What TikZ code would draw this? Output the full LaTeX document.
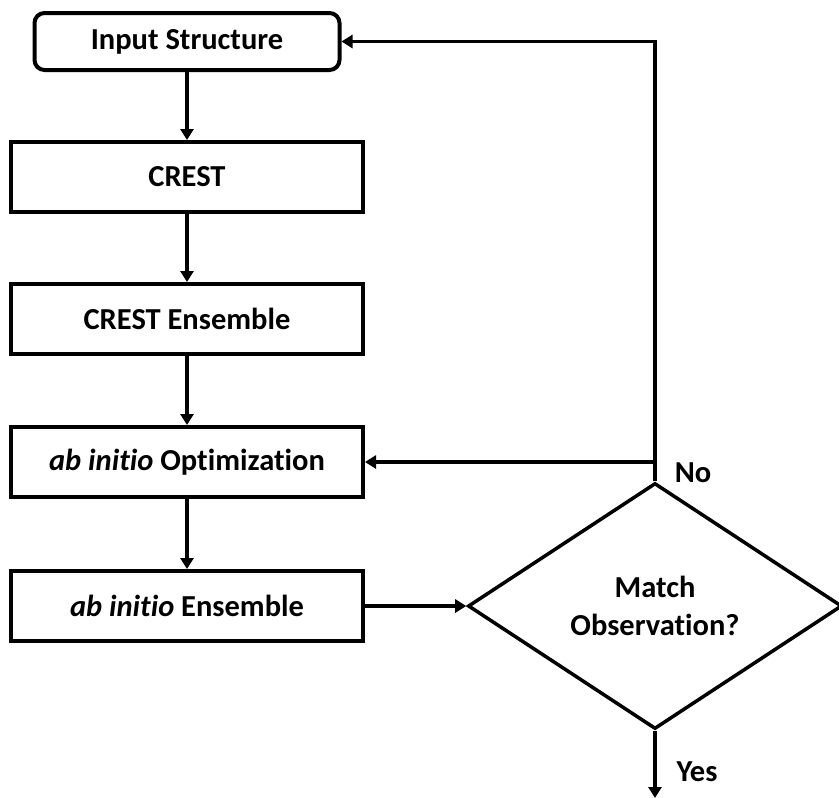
\documentclass[tikz,border=0pt]{standalone}
\usepackage{fontspec}
\setmainfont{Carlito}[Ligatures=NoCommon]
\usetikzlibrary{shapes.geometric}
\usetikzlibrary{arrows.meta}

\begin{document}
\begin{tikzpicture}[x=1pt, y=-1pt,
    font=\fontsize{30.5}{38}\selectfont\bfseries,
    box/.style={draw, line width=4pt, inner sep=0pt,
      minimum width=352pt, minimum height=70pt},
    flow/.style={line width=3.5pt, -{Triangle[length=11pt,width=13pt]}}]
    \useasboundingbox (0,0) rectangle (839,798);

    \node[box, rounded corners=10pt, minimum width=305pt, minimum height=57pt]
      (instr) at (187,41.5) {Input Structure};
    \node[box] (crest) at (187,177) {CREST};
    \node[box] (crestens) at (187,319) {CREST Ensemble};
    \node[box] (abopt) at (187,462) {\textit{ab initio} Optimization};
    \node[box] (abens) at (187,606) {\textit{ab initio} Ensemble};
    \node[draw, diamond, line width=3.5pt, inner sep=0pt, align=center,
      minimum width=374pt, minimum height=246pt]
      (match) at (655,606) {Match\\Observation?};
    \coordinate (yesend) at (655,798);

    \draw[flow] (instr) -- (crest);
    \draw[flow] (crest) -- (crestens);
    \draw[flow] (crestens) -- (abopt);
    \draw[flow] (abopt) -- (abens);
    \draw[flow] (abens) -- (match);
    \draw[flow] (match.north) |- (abopt.east);
    \draw[flow] (match.north) |- (instr.east);
    \draw[flow] (match.south) -- (yesend);

    \node (no) at (693,473) {No};
    \node (yes) at (697,772) {Yes};
\end{tikzpicture}
\end{document}
